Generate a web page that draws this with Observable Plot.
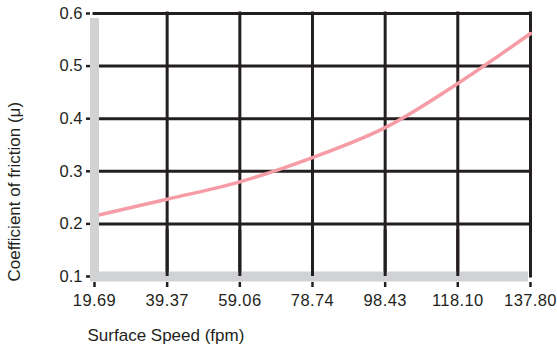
<!DOCTYPE html>
<html>
<head>
<meta charset="utf-8">
<script src="https://cdn.jsdelivr.net/npm/d3@7"></script>
<script src="https://cdn.jsdelivr.net/npm/@observablehq/plot@0.6"></script>
<style>
  html, body { margin: 0; padding: 0; background: #fff; }
  #chart svg { display: block; }
  #chart svg g[aria-label="x-axis tick label"] text { letter-spacing: 0.4px; }
</style>
</head>
<body>
<div id="chart"></div>
<script>
// Data
const speedTicks = [19.69, 39.37, 59.06, 78.74, 98.43, 118.10, 137.80];
const frictionTicks = [0.1, 0.2, 0.3, 0.4, 0.5, 0.6];
const speed = [19.69, 39.37, 59.06, 78.74, 98.43, 118.10, 137.80];
const friction = [0.215, 0.247, 0.280, 0.326, 0.383, 0.467, 0.562];
const xTitle = "Surface Speed (fpm)";
const yTitle = "Coefficient of friction (μ)";

const curve = speed.map((s, i) => ({speed: s, friction: friction[i]}));
const ink = "#231f20";
const gray = "#d1d2d4";
const pink = "#f59ca6";
const font = "'Liberation Sans', Helvetica, Arial, sans-serif";

const chart = Plot.plot({
  width: 557,
  height: 350,
  marginLeft: 94,
  marginRight: 27,
  marginTop: 13,
  marginBottom: 74,
  style: {fontFamily: font, fontSize: "16px", color: ink, background: "#fff"},
  x: {domain: [speedTicks[0], speedTicks[speedTicks.length - 1]]},
  y: {domain: [frictionTicks[0], frictionTicks[frictionTicks.length - 1]]},
  marks: [
    // horizontal grid lines
    Plot.ruleY(frictionTicks.slice(1), {
      x1: speedTicks[0], x2: speedTicks[speedTicks.length - 1],
      stroke: ink, strokeWidth: 3, strokeLinecap: "square"
    }),
    // vertical grid lines (upper part)
    Plot.ruleX(speedTicks.slice(1), {
      y1: frictionTicks[0], y2: frictionTicks[frictionTicks.length - 1],
      stroke: ink, strokeWidth: 3, strokeLinecap: "square"
    }),
    // friction curve
    Plot.line(curve, {
      x: "speed", y: "friction", curve: "catmull-rom",
      stroke: pink, strokeWidth: 3.5
    }),
    // gray axis bars
    Plot.ruleX([speedTicks[0]], {
      y1: frictionTicks[0], y2: frictionTicks[frictionTicks.length - 1],
      stroke: gray, strokeWidth: 9, insetBottom: -5, insetTop: 1.5
    }),
    Plot.ruleY([frictionTicks[0]], {
      x1: speedTicks[0], x2: speedTicks[speedTicks.length - 1],
      stroke: gray, strokeWidth: 10, insetLeft: -4, insetRight: 2
    }),
    // vertical lines over the bottom bar
    Plot.ruleX(speedTicks.slice(1), {
      y1: frictionTicks[0], y2: frictionTicks[1],
      stroke: ink, strokeWidth: 3, insetBottom: -6
    }),
    // axes
    Plot.axisX({
      ticks: speedTicks, tickFormat: d => d.toFixed(2),
      tickSize: 5, dy: 6, tickPadding: 7, strokeWidth: 2.5,
      label: null, fill: ink, fontSize: 16.5
    }),
    Plot.axisY({
      ticks: frictionTicks, tickFormat: d => d.toFixed(1),
      tickSize: 4, dx: -4, tickPadding: 4, strokeWidth: 2.5,
      label: null, fill: ink, fontSize: 16.5
    }),
    // axis titles
    Plot.text([xTitle], {
      text: d => d, frameAnchor: "bottom-left", textAnchor: "start",
      dx: -7, dy: 64, fill: ink, fontSize: 17
    }),
    Plot.text([yTitle], {
      text: d => d, frameAnchor: "bottom-left", textAnchor: "start",
      rotate: -90, dx: -75, dy: 5, fill: ink, fontSize: 17
    })
  ]
});

document.getElementById("chart").appendChild(chart);
</script>
</body>
</html>
